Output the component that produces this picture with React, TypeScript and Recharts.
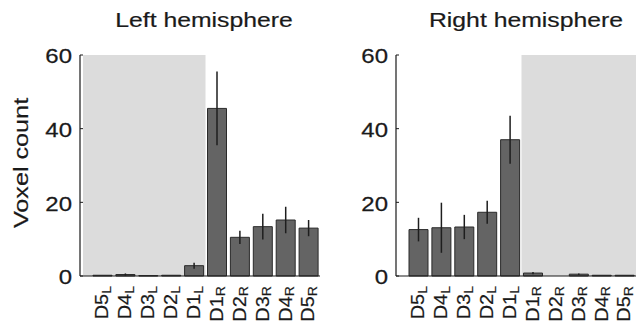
import { BarChart, Bar, XAxis, YAxis, ErrorBar, ReferenceArea } from 'recharts'

// digit labels, each split into the digit name and its subscript
const digits = ['D5', 'D4', 'D3', 'D2', 'D1', 'D1', 'D2', 'D3', 'D4', 'D5']
const sides = ['L', 'L', 'L', 'L', 'L', 'R', 'R', 'R', 'R', 'R']
const yTicks = [0, 20, 40, 60]

const leftValues = [0.2, 0.4, 0.1, 0.2, 2.8, 45.5, 10.5, 13.4, 15.2, 13.0]
const leftErrors = [0, 0.3, 0, 0, 0.8, 10, 1.8, 3.5, 3.6, 2.2]

const rightValues = [12.6, 13.1, 13.3, 17.3, 37.0, 0.8, 0, 0.5, 0.2, 0.2]
const rightErrors = [3.2, 6.8, 3.3, 3.1, 6.5, 0.3, 0, 0.2, 0, 0]

const FONT = '"Liberation Sans", Arial, Helvetica, sans-serif'
const INK = '#1a1a1a'

function buildRows(values: number[], errors: number[]) {
  return digits.map((d, i) => ({
    key: d + sides[i],
    digit: d,
    side: sides[i],
    value: values[i],
    err: errors[i],
  }))
}

const YTick = (props: any) => {
  const { x, y, payload } = props
  return (
    <text
      transform={`translate(${x},${y}) scale(1.17,1)`}
      textAnchor="end"
      dy="0.4em"
      fontSize={20.5}
      fontFamily={FONT}
      fill={INK}
      stroke={INK}
      strokeWidth={0.25}
    >
      {payload.value}
    </text>
  )
}

const XTick = (props: any) => {
  const { x, y, payload } = props
  const key: string = payload.value
  const digit = key.slice(0, 2)
  const side = key.slice(2)
  return (
    <text
      transform={`translate(${x},${y}) rotate(-90) scale(1.08,1)`}
      textAnchor="end"
      dy="0.32em"
      fontSize={18.5}
      fontFamily={FONT}
      fill={INK}
      stroke={INK}
      strokeWidth={0.2}
    >
      {digit}
      <tspan fontSize={13} dy="0.2em">
        {side}
      </tspan>
    </text>
  )
}

const YLabel = () => (
  <text
    transform="translate(28,163) rotate(-90) scale(1.2,1)"
    textAnchor="middle"
    fontSize={21}
    fontFamily={FONT}
    fill={INK}
    stroke={INK}
    strokeWidth={0.2}
  >
    Voxel count
  </text>
)

interface PanelProps {
  values: number[]
  errors: number[]
  shadeFrom?: string
  shadeTo?: string
  extendLeft?: boolean
  showLabel?: boolean
}

function Panel({ values, errors, shadeFrom, shadeTo, extendLeft, showLabel }: PanelProps) {
  const data = buildRows(values, errors)
  return (
    <BarChart width={320} height={327} data={data} margin={{ top: 55, right: 0, bottom: 0, left: 0 }}>
      <ReferenceArea
        x1={shadeFrom}
        x2={shadeTo}
        y1={0}
        y2={60}
        fill="#dcdcdc"
        fillOpacity={1}
        stroke="none"
        ifOverflow="visible"
        shape={(p: any) => (
          <rect
            x={extendLeft ? p.x - 8 : p.x}
            y={p.y}
            width={extendLeft ? p.width + 8 : p.width}
            height={p.height}
            fill="#dcdcdc"
          />
        )}
      />
      <XAxis
        dataKey="key"
        height={51}
        padding={{ left: 11, right: 0 }}
        axisLine={{ stroke: INK, strokeWidth: 1.2 }}
        tickLine={false}
        tickSize={0}
        tickMargin={10}
        interval={0}
        tick={<XTick />}
      />
      <YAxis
        width={80}
        domain={[0, 60]}
        ticks={yTicks}
        axisLine={{ stroke: INK, strokeWidth: 1.2 }}
        tickLine={{ stroke: INK }}
        tickSize={-3}
        tickMargin={11}
        tick={<YTick />}
        label={showLabel ? <YLabel /> : undefined}
      />
      <Bar dataKey="value" fill="#646464" stroke="#2a2a2a" strokeWidth={1} barSize={19} isAnimationActive={false}>
        <ErrorBar dataKey="err" width={0} stroke="#1e1e1e" strokeWidth={1.5} direction="y" />
      </Bar>
    </BarChart>
  )
}

const Title = ({ text, center }: { text: string; center: number }) => (
  <div
    style={{
      position: 'absolute',
      left: center - 150,
      top: 11,
      width: 300,
      textAlign: 'center',
      fontFamily: FONT,
      fontSize: 19.5,
      lineHeight: '19.5px',
      color: INK,
      WebkitTextStroke: '0.2px #1a1a1a',
      transform: 'scaleX(1.27)',
    }}
  >
    {text}
  </div>
)

export default function App() {
  return (
    <div style={{ position: 'absolute', left: 0, top: 0, width: 636, height: 327, background: '#fff', overflow: 'hidden' }}>
      <div style={{ position: 'absolute', left: 0, top: 0 }}>
        <Panel values={leftValues} errors={leftErrors} shadeFrom="D5L" shadeTo="D1L" extendLeft showLabel />
      </div>
      <div style={{ position: 'absolute', left: 316, top: 0 }}>
        <Panel values={rightValues} errors={rightErrors} shadeFrom="D1R" shadeTo="D5R" />
      </div>
      <Title text="Left hemisphere" center={204} />
      <Title text="Right hemisphere" center={526} />
    </div>
  )
}
